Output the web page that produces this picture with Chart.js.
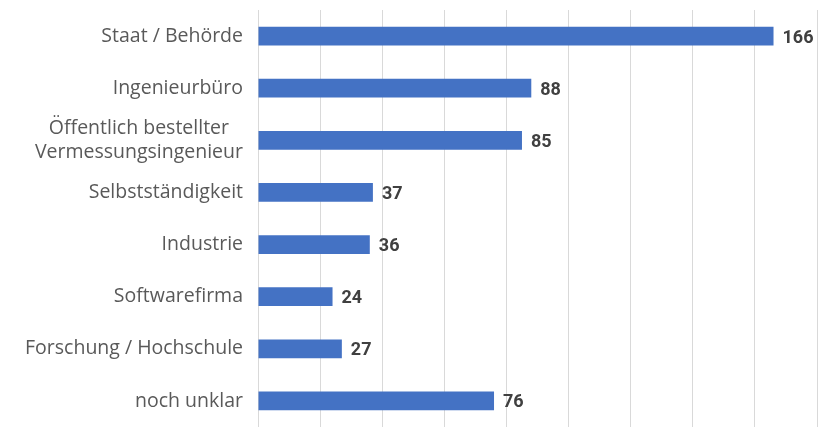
<!DOCTYPE html>
<html><head><meta charset="utf-8">
<script src="https://cdn.jsdelivr.net/npm/chart.js@4"></script>
<style>html,body{margin:0;padding:0;background:#fff}#wrap{width:819px;height:427px;position:relative}</style>
</head><body><div id="wrap"><canvas id="c"></canvas></div>
<script>
const categories = [["Staat / Behörde"], ["Ingenieurbüro"], ["Öffentlich bestellter", "Vermessungsingenieur"], ["Selbstständigkeit"], ["Industrie"], ["Softwarefirma"], ["Forschung / Hochschule"], ["noch unklar"]];
const values = [166, 88, 85, 37, 36, 24, 27, 76];
const axisMax = 180;
const axisStep = 20;

const FONT = "'Open Sans', Roboto, sans-serif";

const labelsPlugin = {
  id: 'labelsPlugin',
  afterDatasetsDraw(chart) {
    const ctx = chart.ctx;
    const y = chart.scales.y;
    const meta = chart.getDatasetMeta(0);
    ctx.save();
    ctx.font = "19.5px " + FONT;
    ctx.fillStyle = '#595959';
    ctx.textBaseline = 'middle';
    const right = chart.chartArea.left - 15;
    categories.forEach((lines, i) => {
      const cy = y.getPixelForValue(i);
      const lh = 24;
      const widths = lines.map(l => ctx.measureText(l).width);
      const maxW = Math.max(...widths);
      lines.forEach((l, j) => {
        const ly = cy + (j - (lines.length - 1) / 2) * lh;
        ctx.textAlign = 'center';
        ctx.fillText(l, right - maxW / 2, ly);
      });
    });
    ctx.font = "bold 18px Roboto, sans-serif";
    ctx.fillStyle = '#404040';
    ctx.textAlign = 'left';
    meta.data.forEach((bar, i) => {
      ctx.fillText(String(values[i]), bar.x + 9, bar.y + 2);
    });
    ctx.restore();
  }
};

new Chart(document.getElementById('c'), {
  type: 'bar',
  data: {
    labels: categories.map(c => c.join(' ')),
    datasets: [{
      data: values,
      backgroundColor: '#4472C4',
      borderWidth: 0,
      barPercentage: 0.36,
      categoryPercentage: 1.0
    }]
  },
  options: {
    indexAxis: 'y',
    responsive: true,
    maintainAspectRatio: false,
    animation: false,
    layout: { padding: { left: 258, right: 2, top: 10, bottom: -2 } },
    plugins: { legend: { display: false }, tooltip: { enabled: false } },
    scales: {
      x: {
        min: 0, max: axisMax,
        ticks: { display: false, stepSize: axisStep },
        grid: { color: '#d9d9d9', lineWidth: 1, drawTicks: false },
        border: { display: false }
      },
      y: {
        display: false
      }
    }
  },
  plugins: [labelsPlugin]
});
</script></body></html>
